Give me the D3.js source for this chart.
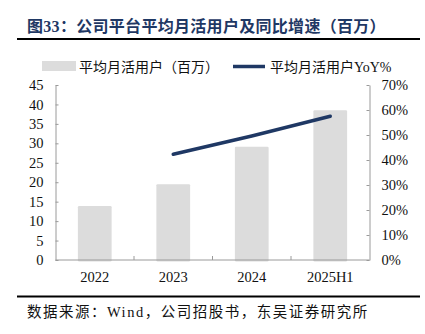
<!DOCTYPE html>
<html><head><meta charset="utf-8">
<script src="https://cdn.jsdelivr.net/npm/d3@7"></script>
<style>
html,body{margin:0;padding:0;background:#fff;}
svg{display:block;}
</style></head>
<body>
<svg id="c" width="425" height="334"></svg>
<script>
const categories = ["2022", "2023", "2024", "2025H1"];
const mauValues = [13.9, 19.5, 29.1, 38.5];
const yoyValues = [null, 0.423, 0.496, 0.575];
const leftTicks = [0, 5, 10, 15, 20, 25, 30, 35, 40, 45];
const rightTicks = [0, 0.1, 0.2, 0.3, 0.4, 0.5, 0.6, 0.7];
const titleText = "图33：公司平台平均月活用户及同比增速（百万）";
const sourceText = "数据来源：Wind，公司招股书，东吴证券研究所";
const legendBar = "平均月活用户（百万）";
const legendLine = "平均月活用户YoY%";

const svg = d3.select("#c");
const serif = "'Liberation Serif','Times New Roman','Noto Serif CJK SC','Noto Sans CJK SC',serif";
const cjk = "'Liberation Serif','Noto Sans CJK SC',sans-serif";
const navy = "#1f3864";
const axisCol = "#9a9a9a";

const L = 55.5, R = 369.5, T = 85, B = 260;

// title
svg.append("text").attr("x", 27).attr("y", 32)
  .attr("font-family", cjk).attr("font-size", 16).attr("font-weight", "bold")
  .attr("fill", navy).attr("letter-spacing", 0.3).text(titleText);
svg.append("line").attr("x1", 17).attr("x2", 420).attr("y1", 39).attr("y2", 39)
  .attr("stroke", "#000").attr("stroke-width", 2);

// legend
svg.append("rect").attr("x", 42).attr("y", 61).attr("width", 34).attr("height", 10)
  .attr("fill", "#dcdcdc");
svg.append("text").attr("x", 79).attr("y", 71.5).attr("font-family", cjk)
  .attr("font-size", 14).attr("fill", "#111").text(legendBar);
svg.append("line").attr("x1", 233).attr("x2", 265).attr("y1", 66.5).attr("y2", 66.5)
  .attr("stroke", navy).attr("stroke-width", 3.5);
svg.append("text").attr("x", 270).attr("y", 71.5).attr("font-family", cjk)
  .attr("font-size", 14).attr("fill", "#111").text(legendLine);

// scales
const x = d3.scaleBand().domain(categories).range([L, R]).paddingInner(0.57).paddingOuter(0.285);
const yL = d3.scaleLinear().domain([0, 45]).range([B, T]);
const yR = d3.scaleLinear().domain([0, 0.7]).range([B, T]);

// bars
svg.append("g").selectAll("rect").data(mauValues).join("rect")
  .attr("x", (d, i) => x(categories[i]))
  .attr("y", d => yL(d))
  .attr("width", x.bandwidth())
  .attr("height", d => B + 1.5 - yL(d))
  .attr("rx", 1.2)
  .attr("fill", "#dcdcdc");

// left axis
const gL = svg.append("g").attr("transform", `translate(${L},0)`)
  .call(d3.axisLeft(yL).tickValues(leftTicks).tickSizeInner(-3).tickSizeOuter(0).tickPadding(12));
gL.select(".domain").attr("stroke", axisCol);
gL.selectAll(".tick line").attr("stroke", axisCol);
gL.selectAll("text").attr("font-family", serif).attr("font-size", 14.5).attr("fill", "#111");

// right axis
const gR = svg.append("g").attr("transform", `translate(${R},0)`)
  .call(d3.axisRight(yR).tickValues(rightTicks).tickFormat(d3.format(".0%")).tickSizeInner(-3).tickSizeOuter(0).tickPadding(12));
gR.select(".domain").attr("stroke", axisCol);
gR.selectAll(".tick line").attr("stroke", axisCol);
gR.selectAll("text").attr("font-family", serif).attr("font-size", 14.5).attr("fill", "#111");

// bottom axis
const gB = svg.append("g").attr("transform", `translate(0,${B})`);
gB.append("line").attr("x1", L).attr("x2", R).attr("y1", 0).attr("y2", 0).attr("stroke", axisCol);
const bounds = categories.slice(1).map(c => x(c) - x.step() * x.paddingInner() / 2 - (x.step() - x.bandwidth()) / 2 + x.step()*x.paddingInner()/2);
gB.selectAll("line.tk").data(categories.slice(1)).join("line").attr("class", "tk")
  .attr("x1", c => x(c) - (x.step() - x.bandwidth()) / 2)
  .attr("x2", c => x(c) - (x.step() - x.bandwidth()) / 2)
  .attr("y1", 0).attr("y2", -4).attr("stroke", axisCol);
gB.selectAll("text").data(categories).join("text")
  .attr("x", c => x(c) + x.bandwidth() / 2).attr("y", 22)
  .attr("text-anchor", "middle").attr("font-family", serif).attr("font-size", 14.5)
  .attr("fill", "#111").text(c => c);

// line
const lineData = categories.map((c, i) => ({c, v: yoyValues[i]})).filter(d => d.v !== null);
svg.append("path").datum(lineData)
  .attr("d", d3.line().x(d => x(d.c) + x.bandwidth() / 2).y(d => yR(d.v)))
  .attr("fill", "none").attr("stroke", navy).attr("stroke-width", 3.5).attr("stroke-linecap", "round");

// footer
svg.append("line").attr("x1", 17).attr("x2", 420).attr("y1", 296.5).attr("y2", 296.5)
  .attr("stroke", "#000").attr("stroke-width", 2);
svg.append("text").attr("x", 27).attr("y", 317).attr("font-family", cjk)
  .attr("font-size", 14.5).attr("letter-spacing", 1.5).attr("fill", "#111").text(sourceText);
</script>
</body></html>
